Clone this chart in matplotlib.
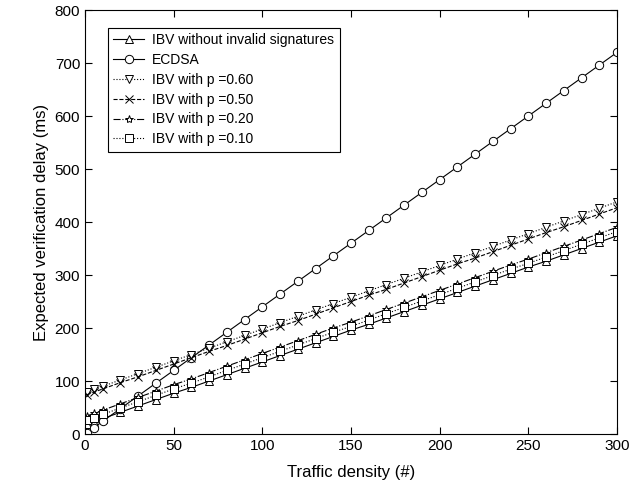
import matplotlib
matplotlib.use("Agg")
import matplotlib.pyplot as plt

plt.rcParams['font.family'] = ['Liberation Sans', 'DejaVu Sans']

# traffic density sample points
density = [1, 5, 10, 20, 30, 40, 50, 60, 70, 80, 90, 100, 110, 120, 130, 140, 150,
           160, 170, 180, 190, 200, 210, 220, 230, 240, 250, 260, 270, 280, 290, 300]

ibv_clean = [18, 23, 29, 41, 53, 65, 77, 88, 100, 112, 124, 136, 148, 160, 172, 184, 196,
             207, 219, 231, 243, 255, 267, 279, 291, 303, 315, 326, 338, 350, 362, 374]
ecdsa = [2.4, 12, 24, 48, 72, 96, 120, 144, 168, 192, 216, 240, 264, 288, 312, 336, 360,
         384, 408, 432, 456, 480, 504, 528, 552, 576, 600, 624, 648, 672, 696, 720]
ibv_p60 = [79, 84, 90, 102, 114, 126, 138, 150, 162, 174, 186, 198, 210, 222, 234, 246, 258,
           270, 282, 294, 306, 318, 330, 342, 354, 366, 378, 390, 402, 414, 426, 438]
ibv_p50 = [74, 79, 85, 97, 108, 120, 132, 144, 156, 167, 179, 191, 203, 214, 226, 238, 250,
           262, 273, 285, 297, 309, 321, 332, 344, 356, 368, 380, 391, 403, 415, 427]
ibv_p20 = [34, 39, 45, 57, 69, 81, 93, 104, 116, 128, 140, 152, 164, 176, 188, 200, 211,
           223, 235, 247, 259, 271, 283, 295, 307, 319, 330, 342, 354, 366, 378, 390]
ibv_p10 = [26, 31, 37, 49, 61, 73, 85, 96, 108, 120, 132, 144, 156, 168, 180, 192, 203,
           215, 227, 239, 251, 263, 275, 287, 299, 311, 322, 334, 346, 358, 370, 382]

fig = plt.figure(figsize=(6.44, 4.94), dpi=100)
ax = fig.add_axes([85/644, 60/494, 532/644, 424/494])

kw = dict(color='black', lw=0.8, markersize=6, markerfacecolor='white',
          markeredgecolor='black', markeredgewidth=0.7)
ax.plot(density, ibv_clean, '-', marker='^', label='IBV without invalid signatures', **kw)
ax.plot(density, ecdsa, '-', marker='o', label='ECDSA', **kw)
ax.plot(density, ibv_p60, ':', marker='v', label='IBV with p =0.60', **kw)
ax.plot(density, ibv_p50, '--', marker='x', label='IBV with p =0.50', **kw)
ax.plot(density, ibv_p20, '-.', marker='*', label='IBV with p =0.20', **kw)
ax.plot(density, ibv_p10, ':', marker='s', label='IBV with p =0.10', **kw)

ax.set_xlim(0, 300)
ax.set_ylim(0, 800)
ax.set_xticks(range(0, 301, 50))
ax.set_yticks(range(0, 801, 100))
ax.tick_params(direction='in', top=True, right=True, labelsize=11, length=5)
ax.set_xlabel('Traffic density (#)', fontsize=12, labelpad=9)
ax.set_ylabel('Expected verification delay (ms)', fontsize=12)

leg = ax.legend(loc='upper left', bbox_to_anchor=(0.03, 0.975), fontsize=10,
                handlelength=2.2, fancybox=False, framealpha=1, edgecolor='black',
                borderpad=0.4, labelspacing=0.42, handletextpad=0.6)
leg.get_frame().set_linewidth(0.8)

fig.savefig('out.png')
